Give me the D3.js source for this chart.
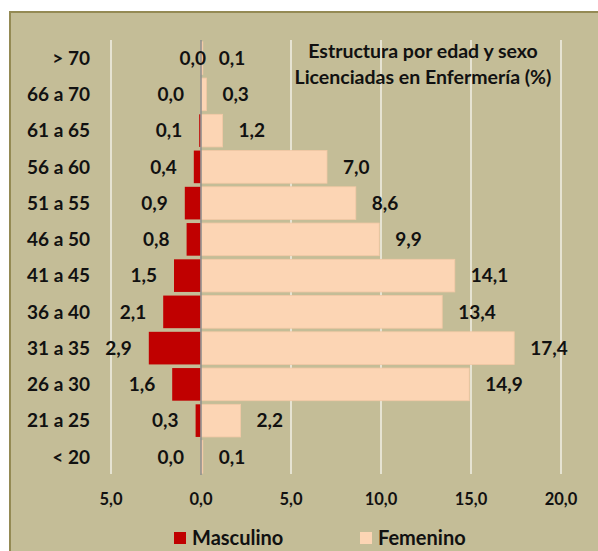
<!DOCTYPE html>
<html>
<head>
<meta charset="utf-8">
<script src="https://cdn.jsdelivr.net/npm/d3@7/dist/d3.min.js"></script>
<style>
  html, body { margin: 0; padding: 0; background: #fff; }
  svg { display: block; }
  text { font-family: Lato, "Open Sans", sans-serif; font-weight: bold; fill: #111; }
</style>
</head>
<body>
<svg id="chart" width="598" height="551"></svg>
<script>
// age groups, top to bottom
const ageGroups = ['> 70', '66 a 70', '61 a 65', '56 a 60', '51 a 55', '46 a 50',
                   '41 a 45', '36 a 40', '31 a 35', '26 a 30', '21 a 25', '< 20'];
// percentages
const masculino = [0.0, 0.0, 0.1, 0.4, 0.9, 0.8, 1.5, 2.1, 2.9, 1.6, 0.3, 0.0];
const femenino  = [0.1, 0.3, 1.2, 7.0, 8.6, 9.9, 14.1, 13.4, 17.4, 14.9, 2.2, 0.1];
const xTicks = [-5, 0, 5, 10, 15, 20];
const titleLines = ['Estructura por edad y sexo', 'Licenciadas en Enfermería (%)'];
const seriesNames = ['Masculino', 'Femenino'];

const COLORS = { male: '#c00000', female: '#fcd5b4', bg: '#c4bd97', border: '#948a54', grid: '#f2f0e6', axis: '#8c8c8c' };

const svg = d3.select('#chart');
const fmt = v => d3.format('.1f')(Math.abs(v)).replace('.', ',');

// chart frame
svg.append('rect')
    .attr('x', 10).attr('y', 12).attr('width', 600).attr('height', 560)
    .attr('fill', COLORS.bg).attr('stroke', COLORS.border).attr('stroke-width', 2);

const x = d3.scaleLinear().domain([-5, 20]).range([111, 561]);
const y = d3.scaleBand().domain(ageGroups).range([40, 475]).paddingInner(0.1).paddingOuter(0.05);

// vertical gridlines
svg.append('g').selectAll('line')
    .data(xTicks.filter(t => t !== 0))
    .join('line')
    .attr('x1', d => x(d)).attr('x2', d => x(d))
    .attr('y1', 40).attr('y2', 474)
    .attr('stroke', COLORS.grid).attr('stroke-width', 1.5);

const rows = ageGroups.map((g, i) => ({ g, m: masculino[i], f: femenino[i] }));

// bars
svg.append('g').selectAll('rect')
    .data(rows)
    .join('rect')
    .attr('x', d => x(-d.m)).attr('y', d => y(d.g))
    .attr('width', d => x(0) - x(-d.m)).attr('height', y.bandwidth())
    .attr('fill', COLORS.male);

svg.append('g').selectAll('rect')
    .data(rows)
    .join('rect')
    .attr('x', x(0)).attr('y', d => y(d.g))
    .attr('width', d => x(d.f) - x(0)).attr('height', y.bandwidth())
    .attr('fill', COLORS.female)
    .attr('stroke', '#f3c9a6').attr('stroke-width', 0.8);

// zero axis
svg.append('line')
    .attr('x1', x(0)).attr('x2', x(0)).attr('y1', 40).attr('y2', 475)
    .attr('stroke', COLORS.axis).attr('stroke-width', 1.5);

// category labels
svg.append('g').selectAll('text')
    .data(ageGroups)
    .join('text')
    .attr('x', 90).attr('y', d => y(d) + y.bandwidth() / 2)
    .attr('dy', '0.35em').attr('text-anchor', 'end')
    .style('font-size', '19px')
    .text(d => d);

// data labels (the top male label sits nudged toward the axis, as in the original)
const maleLabelNudge = { '> 70': 22 };
svg.append('g').selectAll('text')
    .data(rows)
    .join('text')
    .attr('x', d => x(-d.m) - 17 + (maleLabelNudge[d.g] || 0))
    .attr('y', d => y(d.g) + y.bandwidth() / 2)
    .attr('dy', '0.35em').attr('text-anchor', 'end')
    .style('font-size', '19px')
    .text(d => fmt(d.m));

svg.append('g').selectAll('text')
    .data(rows)
    .join('text')
    .attr('x', d => x(d.f) + 16)
    .attr('y', d => y(d.g) + y.bandwidth() / 2)
    .attr('dy', '0.35em').attr('text-anchor', 'start')
    .style('font-size', '19px')
    .text(d => fmt(d.f));

// x axis tick labels
svg.append('g').selectAll('text')
    .data(xTicks)
    .join('text')
    .attr('x', d => x(d)).attr('y', 499)
    .attr('dy', '0.35em').attr('text-anchor', 'middle')
    .style('font-size', '16.5px')
    .text(d => fmt(d));

// title
svg.append('g').selectAll('text')
    .data(titleLines)
    .join('text')
    .attr('x', 423).attr('y', (d, i) => 51 + i * 26)
    .attr('dy', '0.35em').attr('text-anchor', 'middle')
    .style('font-size', '19.5px')
    .text(d => d);

// legend
const legend = svg.append('g').selectAll('g')
    .data(seriesNames)
    .join('g')
    .attr('transform', (d, i) => `translate(${[174, 360][i]}, 538)`);
legend.append('rect')
    .attr('x', 0).attr('y', -6).attr('width', 12).attr('height', 12)
    .attr('fill', (d, i) => i === 0 ? COLORS.male : COLORS.female);
legend.append('text')
    .attr('x', 18).attr('dy', '0.35em')
    .style('font-size', '20px')
    .text(d => d);
</script>
</body>
</html>
